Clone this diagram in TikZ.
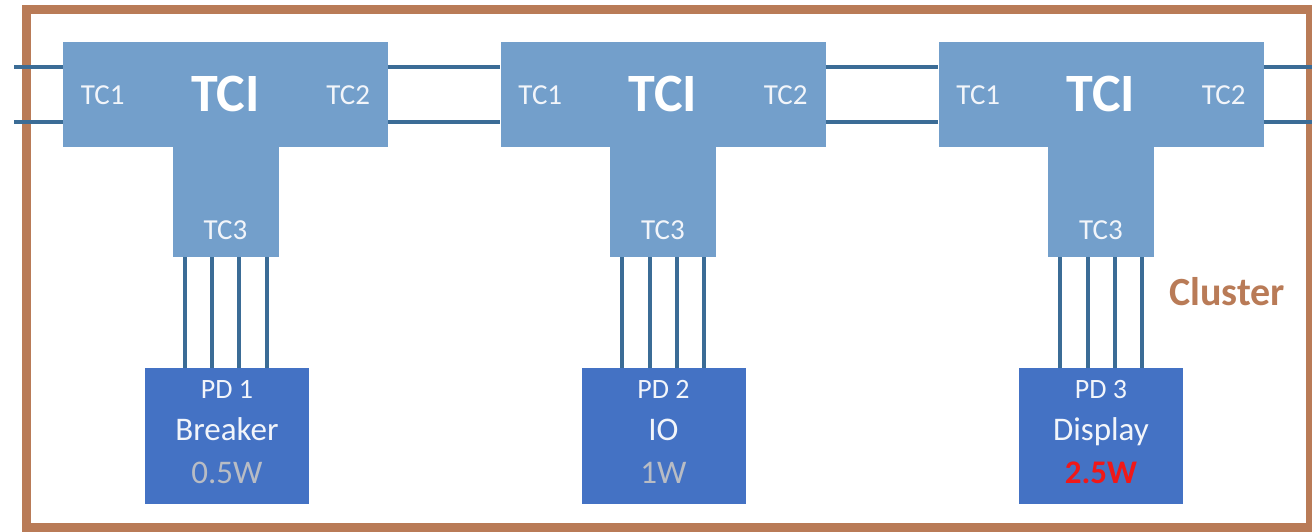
\documentclass[tikz,border=0pt]{standalone}
\usepackage{fontspec}
\setmainfont{Carlito}
\definecolor{tfill}{HTML}{739FCB}
\definecolor{pdfill}{HTML}{4472C4}
\definecolor{wire}{HTML}{3B6C96}
\definecolor{frame}{HTML}{B97B57}
\definecolor{watt}{HTML}{B8BCC4}
\definecolor{hot}{HTML}{F01818}
\definecolor{tctext}{HTML}{F2F5FA}
\tikzset{
  bar/.style={fill=tfill, inner sep=0, minimum width=325pt, minimum height=105pt},
  stem/.style={fill=tfill, inner sep=0, minimum width=106pt, minimum height=112pt},
  pdbox/.style={fill=pdfill, inner sep=0, minimum width=164pt, minimum height=136pt},
  port/.style={text=tctext, font=\fontsize{29}{29}\selectfont, anchor=base, inner sep=0},
  title/.style={text=white, font=\fontsize{54}{54}\selectfont\bfseries, anchor=base, inner sep=0},
  pdname/.style={text=tctext, font=\fontsize{28}{28}\selectfont, anchor=base, inner sep=0},
  pdlabel/.style={text=tctext, font=\fontsize{33}{33}\selectfont, anchor=base, inner sep=0},
  power/.style={font=\fontsize{33}{33}\selectfont, anchor=base, inner sep=0},
  bus/.style={draw=wire, line width=3.5pt},
  lane/.style={draw=wire, line width=4pt},
}
\begin{document}
\begin{tikzpicture}[x=1pt, y=-1pt]
\useasboundingbox (0,0) rectangle (1312,531);
% cluster frame
\draw[frame, line width=9pt] (26.5,9) rectangle (1310,527);
\node[text=frame, font=\fontsize{40}{40}\selectfont\bfseries, anchor=base, inner sep=0] (cluster) at (1227,305) {Cluster};

% three T-shaped couplers with their devices
\foreach \i/\cx/\pcx/\pname/\plabel/\pw/\pcol in {1/225.5/227/PD 1/Breaker/0.5W/watt, 2/663/663.5/PD 2/IO/1W/watt, 3/1101/1101/PD 3/Display/\textbf{2.5W}/hot} {
  \node[bar] (bar\i) at (\cx,94.5) {};
  \node[stem] (stem\i) at (\cx,201) {};
  \node[title] (tci\i) at (\cx,111) {TCI};
  \node[port] (tca\i) at ([xshift=40pt]bar\i.west |- 0,104) {TC1};
  \node[port] (tcb\i) at ([xshift=-40pt]bar\i.east |- 0,104) {TC2};
  \node[port] (tcc\i) at (\cx,239) {TC3};
  \node[pdbox] (pd\i) at (\pcx,436) {};
  \node[pdname] (pdn\i) at (\pcx,398) {\pname};
  \node[pdlabel] (pdl\i) at (\pcx,440) {\plabel};
  \node[power, text=\pcol] (pdw\i) at (\pcx,483) {\pw};
  % four lanes from TC3 down to the device
  \foreach \dx in {-41,-13.5,13.5,41} {
    \draw[lane] ([xshift=\dx pt]stem\i.south) -- ([xshift=\dx pt]stem\i.south |- pd\i.north);
  }
}

% two-wire bus through the couplers
\coordinate (busin) at (14,94.5);
\coordinate (busout) at (1312,94.5);
\foreach \dy in {-27.5,27.5} {
  \draw[bus] ([yshift=-\dy pt]busin) -- ([yshift=-\dy pt]bar1.west);
  \draw[bus] ([yshift=-\dy pt]bar1.east) -- ([yshift=-\dy pt]bar2.west);
  \draw[bus] ([yshift=-\dy pt]bar2.east) -- ([yshift=-\dy pt]bar3.west);
  \draw[bus] ([yshift=-\dy pt]bar3.east) -- ([yshift=-\dy pt]busout);
}
\end{tikzpicture}
\end{document}
